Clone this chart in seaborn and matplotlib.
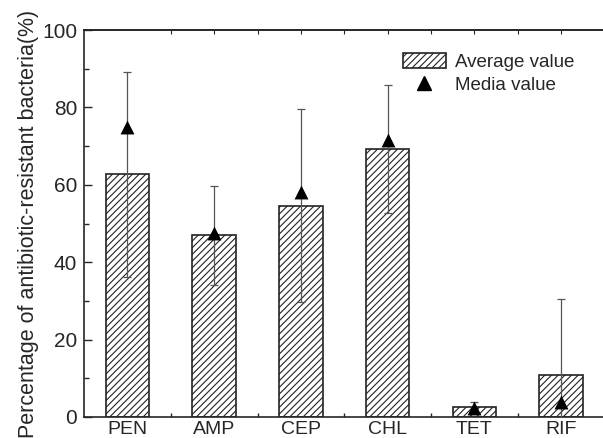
import numpy as np
import pandas as pd
import matplotlib
matplotlib.use('Agg')
import matplotlib.pyplot as plt
import matplotlib.patches as mpatches
from matplotlib.lines import Line2D
from matplotlib.ticker import MultipleLocator
import seaborn as sns

# dados
antibioticos = ['PEN', 'AMP', 'CEP', 'CHL', 'TET', 'RIF']
media = [62.7, 46.9, 54.6, 69.3, 2.5, 10.8]       # average value
mediana = [75.0, 47.5, 58.2, 71.6, 2.3, 4.0]      # "media value" (triângulos)
erro = [26.4, 12.7, 25.0, 16.6, 1.3, 19.7]        # desvio (barra de erro)

df = pd.DataFrame({'ab': antibioticos, 'media': media, 'mediana': mediana, 'erro': erro})

sns.set_style('ticks')
plt.rcParams['font.family'] = ['Liberation Sans', 'DejaVu Sans']
plt.rcParams['hatch.linewidth'] = 0.8

fig, ax = plt.subplots(figsize=(6.03, 4.38), dpi=100)
fig.subplots_adjust(left=84/603, right=604.5/603, top=1 - 30/438, bottom=21/438)

# barras hachuradas
sns.barplot(data=df, x='ab', y='media', color='white', edgecolor='#222222',
            linewidth=1.2, hatch='/////', width=0.5, ax=ax, zorder=2)

# barras de erro
x = np.arange(len(antibioticos))
ax.errorbar(x, df.media, yerr=df.erro, fmt='none', ecolor='#555555',
            elinewidth=0.9, capsize=3, capthick=0.9, zorder=3)

# triângulos
sns.scatterplot(x=x, y=df.mediana, marker='^', color='black', s=100,
                edgecolor='black', linewidth=0, ax=ax, zorder=4)

ax.set_xlim(-0.5, 5.5)
ax.set_ylim(0, 100)
ax.set_xlabel('')
ax.set_ylabel('Percentage of antibiotic-resistant bacteria(%)', fontsize=15.5, labelpad=2)
ax.tick_params(axis='y', which='major', direction='in', length=6, width=1, labelsize=15, pad=5)
ax.yaxis.set_minor_locator(MultipleLocator(10))
ax.tick_params(axis='y', which='minor', direction='in', length=3.5, width=1)
ax.tick_params(axis='x', which='major', length=0, labelsize=14, pad=3)
ax.set_xticks(np.arange(0.5, 5.5, 1.0), minor=True)
ax.tick_params(axis='x', which='minor', direction='in', length=3, width=1)

# eixo de cima com tiquinhos
sec = ax.secondary_xaxis('top')
sec.set_xticks(np.arange(0.5, 5.5, 0.5))
sec.tick_params(direction='in', length=3, width=0.8, labelsize=0, labeltop=False)
sec.spines['top'].set_linewidth(1.2)

for s in ax.spines.values():
    s.set_linewidth(1.2)
    s.set_visible(True)

# legenda
h1 = mpatches.Patch(facecolor='white', edgecolor='#222222', hatch='/////', linewidth=1.2)
h2 = Line2D([], [], marker='^', color='black', linestyle='none', markersize=10)
ax.legend([h1, h2], ['Average value', 'Media value'], loc='upper left',
          bbox_to_anchor=(0.58, 0.985), frameon=False, fontsize=13.5,
          handlelength=2.3, handleheight=0.9, labelspacing=0.25, handletextpad=0.5)

plt.savefig('out.png', dpi=100)
